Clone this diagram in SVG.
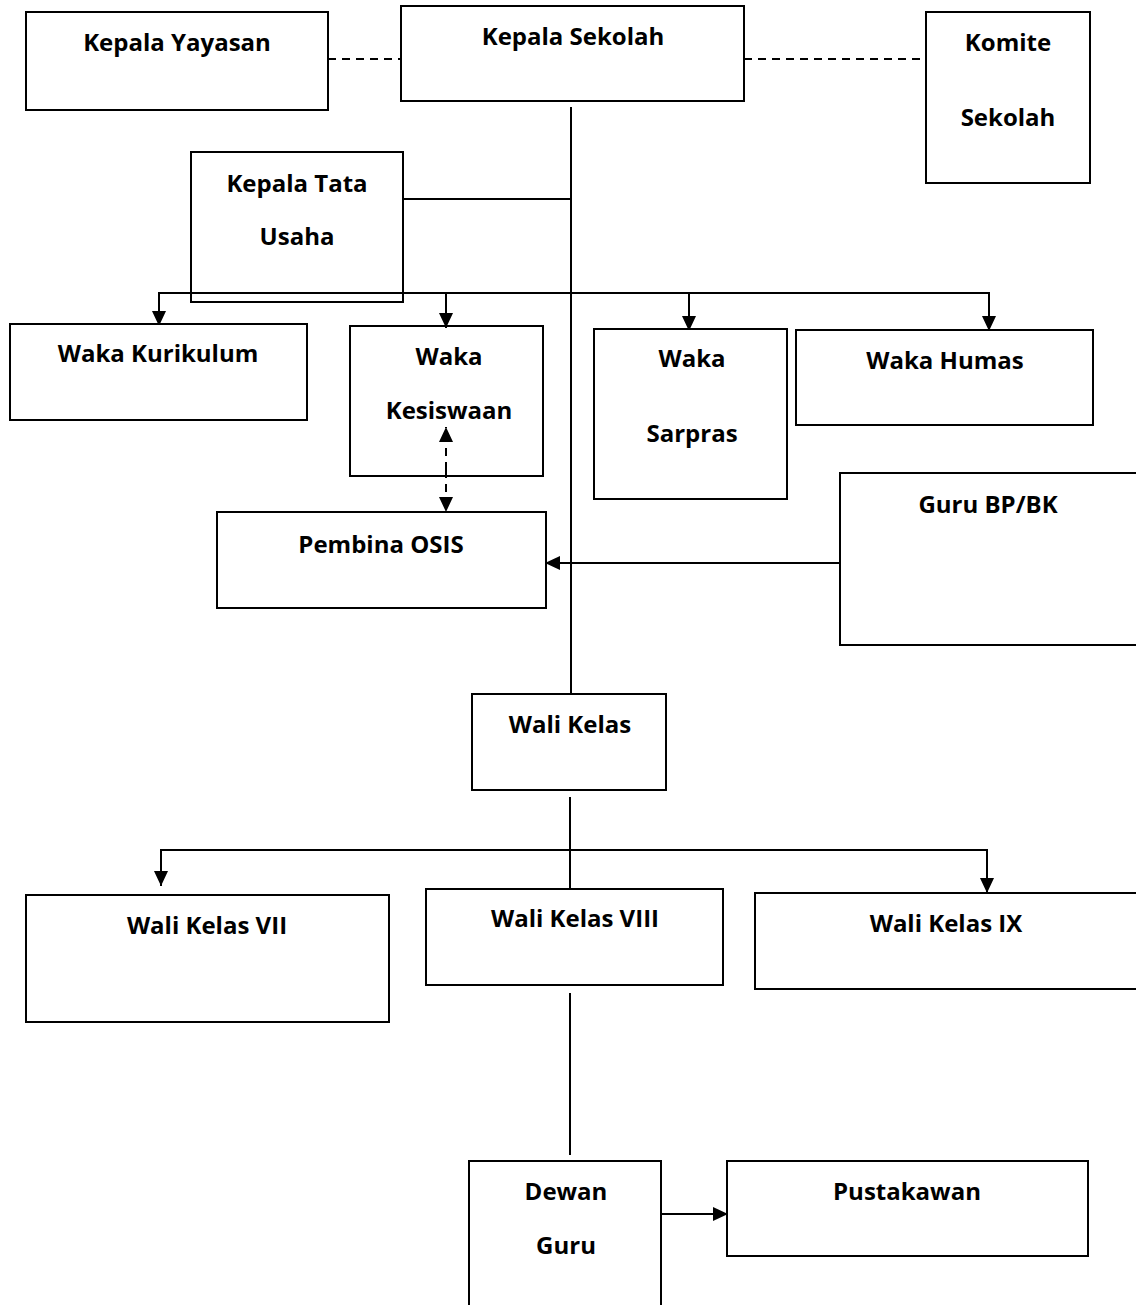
<svg xmlns="http://www.w3.org/2000/svg" width="1136" height="1305" viewBox="0 0 1136 1305">
<style>
rect.box{fill:#fff;stroke:#000;stroke-width:2}
rect.open{fill:none}
text{font-family:"Open Sans","Liberation Sans",sans-serif;font-weight:bold;font-size:24px;fill:#000;text-anchor:middle}
.ln{stroke:#000;stroke-width:2;fill:none}
.dash{stroke:#000;stroke-width:2;fill:none;stroke-dasharray:8,6}
</style>
<defs>
<marker id="ah" viewBox="0 0 15 14" refX="15" refY="7" markerWidth="15" markerHeight="14" markerUnits="userSpaceOnUse" orient="auto">
<path d="M0,0 L15,7 L0,14 z" fill="#000"/>
</marker>
</defs>
<rect width="1136" height="1305" fill="#fff"/>
<g id="connectors">
<line class="dash" x1="328" y1="59" x2="401" y2="59"/>
<line class="dash" x1="744" y1="59" x2="926" y2="59"/>
<line class="ln" x1="571" y1="107" x2="571" y2="694"/>
<line class="ln" x1="403" y1="199" x2="571" y2="199"/>
<line class="ln" x1="158" y1="293" x2="989" y2="293"/>
<line class="ln" x1="159" y1="293" x2="159" y2="326" marker-end="url(#ah)"/>
<line class="ln" x1="446" y1="293" x2="446" y2="328" marker-end="url(#ah)"/>
<line class="ln" x1="689" y1="293" x2="689" y2="331" marker-end="url(#ah)"/>
<line class="ln" x1="989" y1="292" x2="989" y2="331" marker-end="url(#ah)"/>
<line class="dash" x1="446" y1="470" x2="446" y2="427" marker-end="url(#ah)"/>
<line class="dash" x1="446" y1="470" x2="446" y2="512" marker-end="url(#ah)"/>
<line class="ln" x1="840" y1="563" x2="545" y2="563" marker-end="url(#ah)"/>
<line class="ln" x1="570" y1="797" x2="570" y2="889"/>
<line class="ln" x1="160" y1="850" x2="988" y2="850"/>
<line class="ln" x1="161" y1="850" x2="161" y2="886" marker-end="url(#ah)"/>
<line class="ln" x1="987" y1="849" x2="987" y2="893" marker-end="url(#ah)"/>
<line class="ln" x1="570" y1="993" x2="570" y2="1155"/>
<line class="ln" x1="661" y1="1214" x2="728" y2="1214" marker-end="url(#ah)"/>
</g>
<g id="kepala-yayasan"><rect class="box" x="26" y="12" width="302" height="98"/><text x="177" y="51">Kepala Yayasan</text></g>
<g id="kepala-sekolah"><rect class="box" x="401" y="6" width="343" height="95"/><text x="573" y="45">Kepala Sekolah</text></g>
<g id="komite-sekolah"><rect class="box" x="926" y="12" width="164" height="171"/><text x="1008" y="51">Komite</text><text x="1008" y="126">Sekolah</text></g>
<g id="kepala-tata-usaha"><rect class="box open" x="191" y="152" width="212" height="150"/><text x="297" y="192">Kepala Tata</text><text x="297" y="245">Usaha</text></g>
<g id="waka-kurikulum"><rect class="box" x="10" y="324" width="297" height="96"/><text x="158" y="362">Waka Kurikulum</text></g>
<g id="waka-kesiswaan"><rect class="box open" x="350" y="326" width="193" height="150"/><text x="449" y="365">Waka</text><text x="449" y="419">Kesiswaan</text></g>
<g id="waka-sarpras"><rect class="box" x="594" y="329" width="193" height="170"/><text x="692" y="367">Waka</text><text x="692" y="442">Sarpras</text></g>
<g id="waka-humas"><rect class="box" x="796" y="330" width="297" height="95"/><text x="945" y="369">Waka Humas</text></g>
<g id="pembina-osis"><rect class="box" x="217" y="512" width="329" height="96"/><text x="381" y="553">Pembina OSIS</text></g>
<g id="guru-bpbk"><rect class="box" x="840" y="473" width="300" height="172"/><text x="988" y="513">Guru BP/BK</text></g>
<g id="wali-kelas"><rect class="box" x="472" y="694" width="194" height="96"/><text x="570" y="733">Wali Kelas</text></g>
<g id="wali-kelas-vii"><rect class="box" x="26" y="895" width="363" height="127"/><text x="207" y="934">Wali Kelas VII</text></g>
<g id="wali-kelas-viii"><rect class="box" x="426" y="889" width="297" height="96"/><text x="575" y="927">Wali Kelas VIII</text></g>
<g id="wali-kelas-ix"><rect class="box" x="755" y="893" width="385" height="96"/><text x="946" y="932">Wali Kelas IX</text></g>
<g id="dewan-guru"><rect class="box" x="469" y="1161" width="192" height="150"/><text x="566" y="1200">Dewan</text><text x="566" y="1254">Guru</text></g>
<g id="pustakawan"><rect class="box" x="727" y="1161" width="361" height="95"/><text x="907" y="1200">Pustakawan</text></g>
</svg>
